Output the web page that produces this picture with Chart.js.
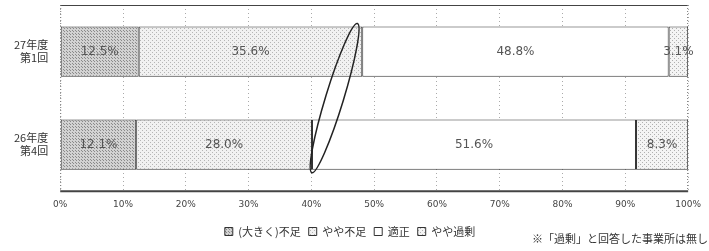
<!DOCTYPE html>
<html>
<head>
<meta charset="utf-8">
<script src="https://cdn.jsdelivr.net/npm/chart.js@4/dist/chart.umd.min.js"></script>
<style>
  html, body { margin: 0; padding: 0; background: #fff; }
  #wrap { position: relative; width: 709px; height: 251px; }
  #note {
    position: absolute; left: 532px; top: 230px;
    font: 11px "Noto Sans CJK JP", sans-serif; color: #333; white-space: nowrap;
  }
</style>
</head>
<body>
<div id="wrap">
  <canvas id="c" width="709" height="251"></canvas>
  <div id="note">※「過剰」と回答した事業所は無し</div>
</div>
<script>
// ---- data ----
const categories = [['27年度', '第1回'], ['26年度', '第4回']];
const seriesNames = ['(大きく)不足', 'やや不足', '適正', 'やや過剰'];
const shortage = [12.5, 12.1];
const slightShortage = [35.6, 28.0];
const adequate = [48.8, 51.6];
const slightExcess = [3.1, 8.3];
const xTicks = [0, 10, 20, 30, 40, 50, 60, 70, 80, 90, 100];

// dotted fill patterns to imitate the scanned print
function dots(bg, dot, step) {
    const p = document.createElement('canvas');
    p.width = step; p.height = step;
    const g = p.getContext('2d');
    g.fillStyle = bg; g.fillRect(0, 0, step, step);
    g.fillStyle = dot;
    g.fillRect(0, 0, 1, 1);
    g.fillRect(Math.floor(step / 2), Math.floor(step / 2), 1, 1);
    return document.getElementById('c').getContext('2d').createPattern(p, 'repeat');
}
const fills = [
    dots('#d2d2d2', '#8a8a8a', 3),
    dots('#f1f1f1', '#b5b5b5', 4),
    '#ffffff',
    dots('#f4f4f4', '#b0b0b0', 4),
];

const valueLabels = {
    id: 'valueLabels',
    afterDatasetsDraw(chart) {
        const ctx = chart.ctx;
        ctx.save();
        ctx.font = '12px "DejaVu Sans", sans-serif';
        ctx.fillStyle = '#555';
        ctx.textAlign = 'center';
        ctx.textBaseline = 'middle';
        chart.data.datasets.forEach((ds, i) => {
            chart.getDatasetMeta(i).data.forEach((bar, j) => {
                const mid = (bar.x + bar.base) / 2;
                ctx.fillText(ds.data[j].toFixed(1) + '%', mid, bar.y);
            });
        });
        ctx.restore();
    }
};

// plot frame + hand-drawn ellipse mark
const frame = {
    id: 'frame',
    afterDraw(chart) {
        const { ctx, chartArea: a, scales } = chart;
        ctx.save();
        ctx.strokeStyle = '#444';
        ctx.lineWidth = 1;
        ctx.beginPath();
        ctx.moveTo(a.left, a.top + 0.5); ctx.lineTo(a.right, a.top + 0.5);
        ctx.stroke();
        ctx.lineWidth = 2;
        ctx.beginPath();
        ctx.moveTo(a.left, a.bottom); ctx.lineTo(a.right, a.bottom);
        ctx.stroke();
        ctx.setLineDash([1, 2]);
        ctx.lineWidth = 1;
        ctx.strokeStyle = '#777';
        ctx.beginPath();
        ctx.moveTo(a.left + 0.5, a.top); ctx.lineTo(a.left + 0.5, a.bottom);
        ctx.moveTo(a.right - 0.5, a.top); ctx.lineTo(a.right - 0.5, a.bottom);
        ctx.stroke();
        ctx.setLineDash([]);
        const cx = scales.x.getPixelForValue(43.7);
        const cy = (scales.y.getPixelForValue(0) + scales.y.getPixelForValue(1)) / 2;
        ctx.strokeStyle = '#222';
        ctx.lineWidth = 1.5;
        ctx.beginPath();
        ctx.ellipse(cx, cy, 9, 78, 17 * Math.PI / 180, 0, Math.PI * 2);
        ctx.stroke();
        ctx.restore();
    }
};

const values = [shortage, slightShortage, adequate, slightExcess];

new Chart(document.getElementById('c'), {
    type: 'bar',
    data: {
        labels: categories,
        datasets: seriesNames.map((name, i) => ({
            label: name,
            data: values[i],
            backgroundColor: fills[i],
            borderColor: '#333',
            borderWidth: 1,
            borderSkipped: false,
            barPercentage: 0.9,
            categoryPercentage: 0.6,
        })),
    },
    options: {
        indexAxis: 'y',
        responsive: false,
        animation: false,
        layout: { padding: { top: 5, right: 19, left: 10, bottom: 4 } },
        scales: {
            x: {
                stacked: true,
                min: 0, max: 100,
                afterBuildTicks: axis => { axis.ticks = xTicks.map(v => ({ value: v })); },
                ticks: {
                    callback: v => v + '%',
                    color: '#444',
                    font: { size: 9, family: '"DejaVu Sans", sans-serif' },
                    padding: 8,
                },
                grid: { color: '#aaa', lineWidth: 1, drawTicks: false },
                border: { display: false, dash: [1, 3] },
            },
            y: {
                stacked: true,
                afterFit: axis => { axis.paddingTop = 0; axis.paddingBottom = 0; },
                ticks: {
                    color: '#333',
                    font: { size: 11, family: '"Noto Sans CJK JP", sans-serif' },
                    padding: 4,
                },
                grid: { display: false },
                border: { display: false },
            },
        },
        plugins: {
            legend: {
                position: 'bottom',
                labels: {
                    boxWidth: 8, boxHeight: 8,
                    color: '#333',
                    font: { size: 11, family: '"Noto Sans CJK JP", sans-serif' },
                    padding: 8,
                },
            },
            tooltip: { enabled: false },
        },
    },
    plugins: [valueLabels, frame],
});
</script>
</body>
</html>
